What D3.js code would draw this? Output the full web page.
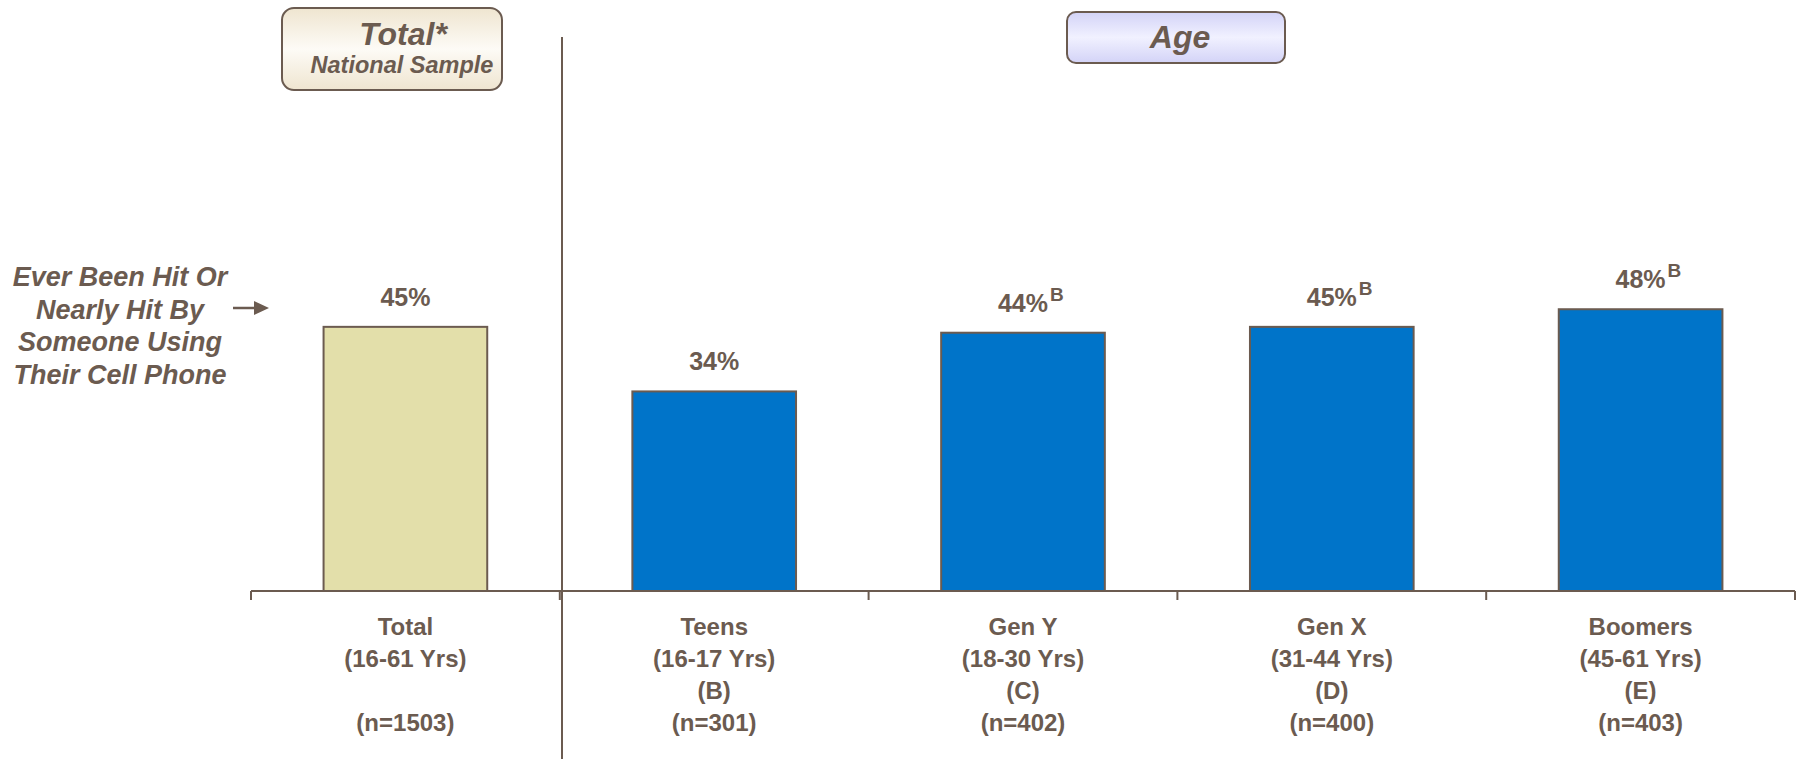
<!DOCTYPE html>
<html>
<head>
<meta charset="utf-8">
<script src="https://cdn.jsdelivr.net/npm/d3@7"></script>
<style>
  html, body { margin: 0; padding: 0; background: #fff; }
  svg { display: block; font-family: "Liberation Sans", Arial, sans-serif; }
</style>
</head>
<body>
<svg id="chart" width="1799" height="759"></svg>
<script>
// Share who have ever been hit or nearly hit by someone using a cell phone
const categories = ["Total", "Teens", "Gen Y", "Gen X", "Boomers"];
const values = [45, 34, 44, 45, 48];
const sigLetters = ["", "", "B", "B", "B"];
const rangeLabels = ["(16-61 Yrs)", "(16-17 Yrs)", "(18-30 Yrs)", "(31-44 Yrs)", "(45-61 Yrs)"];
const groupLetters = ["", "(B)", "(C)", "(D)", "(E)"];
const sampleSizes = ["(n=1503)", "(n=301)", "(n=402)", "(n=400)", "(n=403)"];
const rowLabel = ["Ever Been Hit Or", "Nearly Hit By", "Someone Using", "Their Cell Phone"];

const ink = "#6b5b50";
const svg = d3.select("#chart");

const baseline = 591;
const x = d3.scaleBand().domain(categories).range([251, 1795]).padding(0);
const y = d3.scaleLinear().domain([0, 100]).range([baseline, 4]);
const barW = x.bandwidth() * 0.53;

// gradients for the header boxes
const defs = svg.append("defs");
function vGrad(id, edge, mid) {
  const g = defs.append("linearGradient").attr("id", id)
    .attr("x1", 0).attr("y1", 0).attr("x2", 0).attr("y2", 1);
  g.append("stop").attr("offset", "0%").attr("stop-color", edge);
  g.append("stop").attr("offset", "50%").attr("stop-color", mid);
  g.append("stop").attr("offset", "100%").attr("stop-color", edge);
}
vGrad("gTotal", "#efe5d0", "#fdfbf6");
vGrad("gAge", "#d3d3f7", "#f1f1ff");

// bars
svg.append("g").selectAll("rect")
  .data(categories)
  .join("rect")
  .attr("x", d => x(d) + (x.bandwidth() - barW) / 2)
  .attr("y", (d, i) => y(values[i]))
  .attr("width", barW)
  .attr("height", (d, i) => baseline - y(values[i]))
  .attr("fill", (d, i) => i === 0 ? "#e3dfaa" : "#0074c9")
  .attr("stroke", ink)
  .attr("stroke-width", 2);

// category axis: baseline with ticks at the slot edges
const axis = d3.axisBottom(x).tickSize(0).tickFormat("");
const axisG = svg.append("g").attr("transform", `translate(0,${baseline})`).call(axis);
axisG.select(".domain").attr("stroke", ink).attr("stroke-width", 2).attr("d", `M251,0H1795`);
const edges = categories.map(c => x(c)).concat([x.range()[1]]);
axisG.selectAll(".edge").data(edges).join("line")
  .attr("x1", d => d).attr("x2", d => d)
  .attr("y1", 0).attr("y2", 9)
  .attr("stroke", ink).attr("stroke-width", 2);

// value labels with significance superscripts
const valG = svg.append("g");
categories.forEach((c, i) => {
  const cx = x(c) + x.bandwidth() / 2;
  const ty = y(values[i]) - 21;
  const t = valG.append("text")
    .attr("x", cx).attr("y", ty)
    .attr("text-anchor", "middle")
    .attr("font-size", 25).attr("font-weight", "bold")
    .attr("fill", ink)
    .text(values[i] + "%");
  if (sigLetters[i]) {
    const w = t.node().getComputedTextLength();
    valG.append("text")
      .attr("x", cx + w / 2 + 2).attr("y", ty - 11)
      .attr("font-size", 19).attr("font-weight", "bold")
      .attr("fill", ink)
      .text(sigLetters[i]);
  }
});

// category labels under the axis
const catG = svg.append("g").attr("font-size", 24).attr("font-weight", "bold")
  .attr("fill", ink).attr("text-anchor", "middle");
categories.forEach((c, i) => {
  const cx = x(c) + x.bandwidth() / 2;
  const lines = [c, rangeLabels[i], groupLetters[i], sampleSizes[i]];
  lines.forEach((s, k) => {
    if (!s) return;
    catG.append("text").attr("x", cx).attr("y", 635 + k * 32).text(s);
  });
});

// divider between the total and the age breakdown
svg.append("line")
  .attr("x1", 562).attr("x2", 562).attr("y1", 37).attr("y2", 759)
  .attr("stroke", ink).attr("stroke-width", 2);

// row label with arrow
const rl = svg.append("g").attr("font-size", 27).attr("font-weight", "bold")
  .attr("font-style", "italic").attr("fill", ink).attr("text-anchor", "middle");
rowLabel.forEach((s, k) => {
  rl.append("text").attr("x", 120).attr("y", 286 + k * 32.5).text(s);
});
svg.append("line").attr("x1", 233).attr("x2", 256).attr("y1", 308).attr("y2", 308)
  .attr("stroke", ink).attr("stroke-width", 2.5);
svg.append("path").attr("d", "M254,301L269,308L254,315Z").attr("fill", ink);

// header boxes
svg.append("rect").attr("x", 282).attr("y", 8).attr("width", 220).attr("height", 82)
  .attr("rx", 12).attr("fill", "url(#gTotal)").attr("stroke", ink).attr("stroke-width", 2);
svg.append("text").attr("x", 403).attr("y", 45).attr("text-anchor", "middle")
  .attr("font-size", 32).attr("font-weight", "bold").attr("font-style", "italic")
  .attr("fill", ink).text("Total*");
svg.append("text").attr("x", 402).attr("y", 73).attr("text-anchor", "middle")
  .attr("font-size", 23.5).attr("font-weight", "bold").attr("font-style", "italic")
  .attr("fill", ink).text("National Sample");

svg.append("rect").attr("x", 1067).attr("y", 12).attr("width", 218).attr("height", 51)
  .attr("rx", 9).attr("fill", "url(#gAge)").attr("stroke", ink).attr("stroke-width", 2);
svg.append("text").attr("x", 1180).attr("y", 48).attr("text-anchor", "middle")
  .attr("font-size", 32).attr("font-weight", "bold").attr("font-style", "italic")
  .attr("fill", ink).text("Age");
</script>
</body>
</html>
